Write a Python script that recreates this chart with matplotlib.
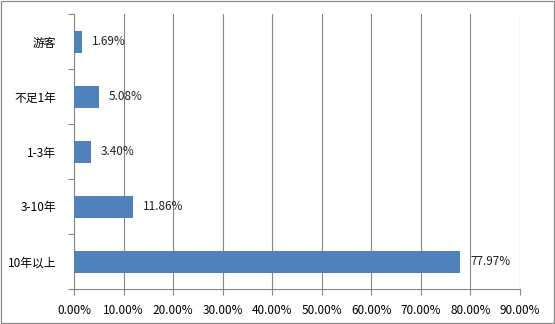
import numpy as np
import matplotlib.pyplot as plt
from matplotlib.patches import Rectangle

plt.rcParams['font.family'] = ['Noto Sans CJK SC', 'DejaVu Sans']

# categories listed top to bottom
categories = ['游客', '不足1年', '1-3年', '3-10年', '10年以上']
shares = [1.69, 5.08, 3.40, 11.86, 77.97]
xticks = np.arange(0, 91, 10)

bar_color = '#4F81BD'
grid_color = '#868686'

fig = plt.figure(figsize=(5.55, 3.24), dpi=100)
ax = fig.add_axes([74 / 555, 1 - 289 / 324, 446 / 555, 275 / 324])

pos = np.arange(len(categories))
ax.barh(pos, shares, height=0.4, color=bar_color, zorder=3)
for p, v in zip(pos, shares):
    ax.text(v + 2.0, p, f'{v:.2f}%', va='center', ha='left', fontsize=8.5,
            color='#222222', zorder=4)

ax.set_xlim(0, 90)
ax.set_ylim(len(categories) - 0.5, -0.5)

ax.set_xticks(xticks)
ax.set_xticklabels([f'{t:.2f}%' for t in xticks], fontsize=8.5)
ax.set_yticks(pos)
ax.set_yticklabels(categories, fontsize=8.5)
ax.set_yticks(np.arange(-0.5, len(categories)), minor=True)
ax.tick_params(axis='y', which='major', length=0, pad=13)
ax.tick_params(axis='y', which='minor', length=4, color=grid_color, width=0.8)
ax.tick_params(axis='x', length=4, color=grid_color, width=0.8, pad=7)

ax.xaxis.grid(True, color=grid_color, linewidth=0.8, zorder=0)
ax.set_axisbelow(True)
for side in ['top', 'right']:
    ax.spines[side].set_visible(False)
for side in ['left', 'bottom']:
    ax.spines[side].set_color(grid_color)
    ax.spines[side].set_linewidth(0.8)

# thin frame around the whole chart area
fig.patches.append(Rectangle((0.001, 0.002), 0.997, 0.995, transform=fig.transFigure,
                             fill=False, edgecolor='#888888', linewidth=0.9))

fig.savefig('out.png', dpi=100)
